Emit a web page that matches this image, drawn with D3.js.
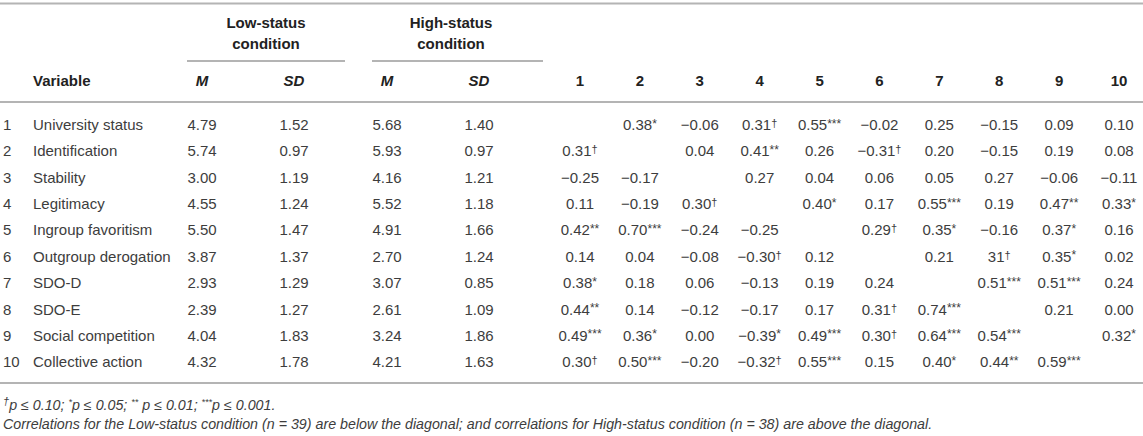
<!DOCTYPE html>
<html><head><meta charset="utf-8">
<script src="https://cdn.jsdelivr.net/npm/d3@7"></script>
<style>body{margin:0;background:#fff}svg{display:block}</style>
</head><body><svg id="c" width="1143" height="436"></svg>
<script>
const variables = ["University status","Identification","Stability","Legitimacy","Ingroup favoritism","Outgroup derogation","SDO-D","SDO-E","Social competition","Collective action"];
const lowM  = [4.79,5.74,3.00,4.55,5.50,3.87,2.93,2.39,4.04,4.32];
const lowSD = [1.52,0.97,1.19,1.24,1.47,1.37,1.29,1.27,1.83,1.78];
const highM = [5.68,5.93,4.16,5.52,4.91,2.70,3.07,2.61,3.24,4.21];
const highSD= [1.40,0.97,1.21,1.18,1.66,1.24,0.85,1.09,1.86,1.63];
const corrRow1  = ["","0.38*","−0.06","0.31†","0.55***","−0.02","0.25","−0.15","0.09","0.10"];
const corrRow2  = ["0.31†","","0.04","0.41**","0.26","−0.31†","0.20","−0.15","0.19","0.08"];
const corrRow3  = ["−0.25","−0.17","","0.27","0.04","0.06","0.05","0.27","−0.06","−0.11"];
const corrRow4  = ["0.11","−0.19","0.30†","","0.40*","0.17","0.55***","0.19","0.47**","0.33*"];
const corrRow5  = ["0.42**","0.70***","−0.24","−0.25","","0.29†","0.35*","−0.16","0.37*","0.16"];
const corrRow6  = ["0.14","0.04","−0.08","−0.30†","0.12","","0.21","31†","0.35*","0.02"];
const corrRow7  = ["0.38*","0.18","0.06","−0.13","0.19","0.24","","0.51***","0.51***","0.24"];
const corrRow8  = ["0.44**","0.14","−0.12","−0.17","0.17","0.31†","0.74***","","0.21","0.00"];
const corrRow9  = ["0.49***","0.36*","0.00","−0.39*","0.49***","0.30†","0.64***","0.54***","","0.32*"];
const corrRow10 = ["0.30†","0.50***","−0.20","−0.32†","0.55***","0.15","0.40*","0.44**","0.59***",""];
const corr = [corrRow1,corrRow2,corrRow3,corrRow4,corrRow5,corrRow6,corrRow7,corrRow8,corrRow9,corrRow10];
const groupLabels = [["Low-status","condition"],["High-status","condition"]];
const statLabels = ["M","SD","M","SD"];
const footnote2 = "Correlations for the Low-status condition (n = 39) are below the diagonal; and correlations for High-status condition (n = 38) are above the diagonal.";

const svg = d3.select("#c");
const FONT = "'Liberation Sans', Arial, Helvetica, sans-serif";
const FS = 15;
const bodyCol = "#3d3d3d", headCol = "#222", ruleCol = "#b4b4b4";
const ids = d3.range(1, 11);
const y = d3.scalePoint().domain(ids).range([125, 362.3]);
const xc = d3.scalePoint().domain(ids).range([580, 1119]);
const xsPos = [202, 294, 387, 479];
const fmt = d3.format(".2f");
const base = 5; // baseline offset from center

svg.attr("font-family", FONT);

// rules
const rule = (x1, x2, yy) => svg.append("line").attr("x1", x1).attr("x2", x2).attr("y1", yy).attr("y2", yy)
  .attr("stroke", ruleCol).attr("stroke-width", 2);
rule(0, 1143, 3.5);
rule(187, 345, 61);
rule(372, 543, 61);
rule(0, 1143, 102);
rule(0, 1143, 383);

// group header
const gx = [266, 451];
groupLabels.forEach((g, i) => {
  g.forEach((t, j) => {
    svg.append("text").attr("x", gx[i]).attr("y", 28 + j * 20.5).attr("text-anchor", "middle")
      .attr("font-size", FS).attr("font-weight", "bold").attr("fill", headCol).text(t);
  });
});

// column headers
svg.append("text").attr("x", 33).attr("y", 86).attr("font-size", FS).attr("font-weight", "bold").attr("fill", headCol).text("Variable");
statLabels.forEach((t, i) => {
  svg.append("text").attr("x", xsPos[i]).attr("y", 86).attr("text-anchor", "middle")
    .attr("font-size", FS).attr("font-weight", "bold").attr("font-style", "italic").attr("fill", headCol).text(t);
});
svg.selectAll("text.ch").data(ids).join("text").attr("class", "ch")
  .attr("x", d => xc(d)).attr("y", 86).attr("text-anchor", "middle")
  .attr("font-size", FS).attr("font-weight", "bold").attr("fill", headCol).text(d => d);

// body rows
const rows = svg.selectAll("g.row").data(ids).join("g").attr("class", "row")
  .attr("transform", d => `translate(0,${y(d) + base})`)
  .attr("font-size", FS).attr("fill", bodyCol);
rows.append("text").attr("x", 3).text(d => d);
rows.append("text").attr("x", 33).text((d, i) => variables[i]);
[lowM, lowSD, highM, highSD].forEach((arr, k) => {
  rows.append("text").attr("x", xsPos[k]).attr("text-anchor", "middle").text((d, i) => fmt(arr[i]));
});
rows.each(function(d, i) {
  const g = d3.select(this);
  corr[i].forEach((s, j) => {
    if (!s) return;
    const m = s.match(/^([^*†]*)([*†]*)$/);
    const t = g.append("text").attr("x", xc(j + 1)).attr("text-anchor", "middle");
    t.append("tspan").text(m[1]);
    if (m[2]) {
      const dag = m[2].includes("†");
      t.append("tspan").attr("font-size", dag ? 11 : 12).attr("dy", dag ? -3 : -2.5).text(m[2]);
    }
  });
});

// footnotes
const FN = 14.25;
const f1 = svg.append("text").attr("x", 3).attr("y", 410).attr("font-size", FN).attr("font-style", "italic").attr("fill", bodyCol);
const parts = [["†","p ≤ 0.10; "],["*","p ≤ 0.05; "],["**"," p ≤ 0.01; "],["***","p ≤ 0.001."]];
parts.forEach(([sup, txt]) => {
  f1.append("tspan").attr("font-size", sup === "†" ? 11 : 9).attr("dy", -5).text(sup);
  f1.append("tspan").attr("dy", 5).text(txt);
});
svg.append("text").attr("x", 3).attr("y", 429).attr("font-size", FN).attr("font-style", "italic").attr("fill", bodyCol).text(footnote2);
</script></body></html>
